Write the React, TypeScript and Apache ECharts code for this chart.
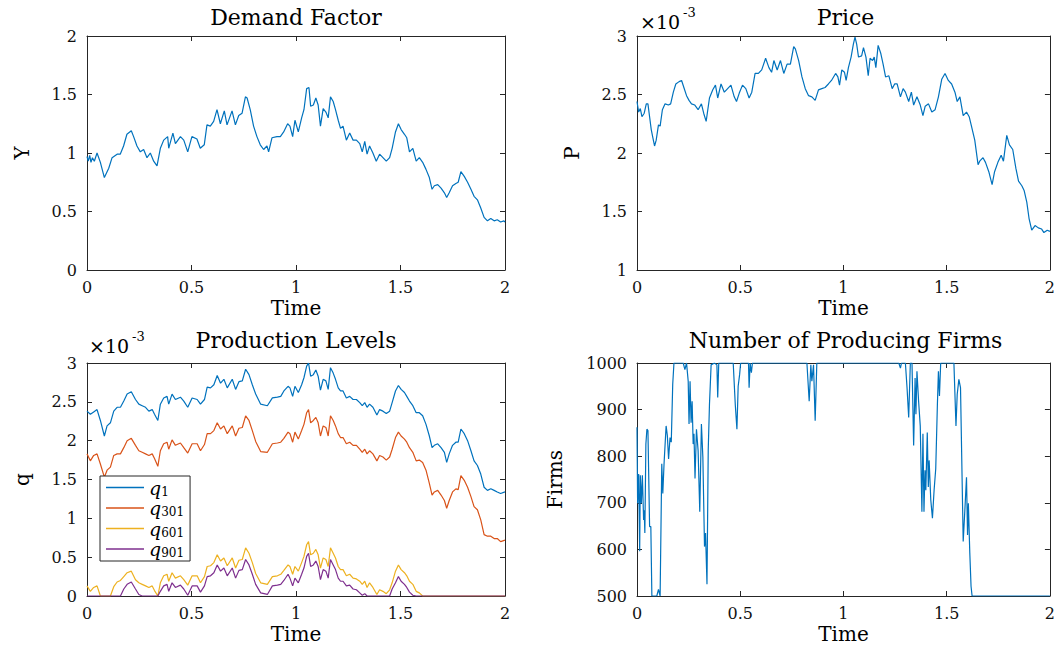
import React, { useEffect, useRef } from "react";
import * as echarts from "echarts";

// ---------- data ----------
// Demand factor Y(t): [time, Y]
const demand: number[][] = [
  [0, 0.97], [0.006, 0.93], [0.013, 0.98], [0.019, 0.92], [0.026, 0.96], [0.035, 0.93], [0.048, 1.0], [0.064, 0.92],
  [0.083, 0.79], [0.104, 0.87], [0.12, 0.96], [0.144, 0.99], [0.159, 0.99], [0.175, 1.06], [0.191, 1.16], [0.212, 1.19],
  [0.223, 1.14], [0.239, 1.06], [0.255, 1.01], [0.271, 1.03], [0.287, 0.96], [0.303, 1.0], [0.319, 0.93], [0.335, 0.89],
  [0.351, 1.04], [0.367, 1.11], [0.386, 1.14], [0.391, 1.04], [0.411, 1.17], [0.423, 1.08], [0.447, 1.14], [0.463, 1.11],
  [0.482, 1.01], [0.502, 1.14], [0.526, 1.12], [0.542, 1.04], [0.561, 1.07], [0.574, 1.24], [0.59, 1.23], [0.606, 1.27],
  [0.622, 1.37], [0.638, 1.25], [0.657, 1.36], [0.67, 1.24], [0.694, 1.36], [0.71, 1.24], [0.726, 1.32], [0.742, 1.34],
  [0.758, 1.48], [0.766, 1.47], [0.781, 1.37], [0.797, 1.23], [0.813, 1.14], [0.829, 1.07], [0.845, 1.03], [0.861, 1.06],
  [0.869, 1.01], [0.885, 1.13], [0.909, 1.14], [0.925, 1.14], [0.941, 1.18], [0.96, 1.25],
  [0.971, 1.23], [0.984, 1.14], [0.995, 1.28], [1.011, 1.18], [1.027, 1.3], [1.038, 1.37], [1.051, 1.55], [1.062, 1.56],
  [1.07, 1.4], [1.083, 1.41], [1.095, 1.47], [1.106, 1.41], [1.117, 1.23], [1.13, 1.38], [1.143, 1.35], [1.154, 1.3],
  [1.165, 1.48], [1.178, 1.44], [1.189, 1.37], [1.202, 1.28], [1.213, 1.21], [1.225, 1.23], [1.241, 1.11], [1.257, 1.17],
  [1.273, 1.11], [1.289, 1.11], [1.305, 1.08], [1.317, 1.01], [1.329, 1.1], [1.34, 0.99], [1.352, 1.06], [1.368, 1.0],
  [1.384, 0.93], [1.4, 0.99], [1.416, 0.96], [1.432, 0.93], [1.448, 0.96], [1.46, 1.04], [1.476, 1.18], [1.49, 1.25],
  [1.503, 1.2], [1.519, 1.16], [1.53, 1.13], [1.543, 1.01], [1.559, 1.04], [1.575, 0.93], [1.59, 0.96], [1.606, 0.92],
  [1.622, 0.86], [1.638, 0.79], [1.651, 0.69], [1.662, 0.72], [1.678, 0.73], [1.694, 0.7], [1.71, 0.66], [1.721, 0.62],
  [1.733, 0.66], [1.749, 0.72], [1.765, 0.74], [1.776, 0.75], [1.789, 0.84], [1.805, 0.8], [1.821, 0.75], [1.837, 0.69],
  [1.852, 0.63], [1.868, 0.6], [1.884, 0.53], [1.9, 0.45], [1.916, 0.42], [1.932, 0.44], [1.948, 0.42], [1.963, 0.43],
  [1.979, 0.41], [1.995, 0.42], [2.0, 0.41],
];

// Price P(t) in units of 1e-3: [time, P]
const price: number[][] = [
  [0, 2.44], [0.008, 2.35], [0.016, 2.38], [0.024, 2.31], [0.035, 2.34], [0.045, 2.42], [0.053, 2.42], [0.061, 2.31],
  [0.069, 2.2], [0.077, 2.13], [0.085, 2.06], [0.093, 2.11], [0.104, 2.24], [0.112, 2.23], [0.123, 2.37], [0.136, 2.42],
  [0.152, 2.41], [0.163, 2.42], [0.176, 2.52], [0.188, 2.59], [0.204, 2.61], [0.216, 2.62], [0.227, 2.56], [0.24, 2.49],
  [0.252, 2.45], [0.264, 2.42], [0.28, 2.41], [0.296, 2.37], [0.312, 2.42], [0.323, 2.34], [0.335, 2.27], [0.351, 2.47],
  [0.367, 2.54], [0.38, 2.58], [0.391, 2.47], [0.407, 2.59], [0.423, 2.52], [0.439, 2.55], [0.455, 2.58], [0.471, 2.48],
  [0.482, 2.44], [0.495, 2.51], [0.511, 2.58], [0.527, 2.55], [0.543, 2.47], [0.556, 2.52], [0.572, 2.68], [0.588, 2.68],
  [0.604, 2.71], [0.623, 2.81], [0.639, 2.73], [0.652, 2.69], [0.663, 2.79], [0.679, 2.71], [0.695, 2.79], [0.711, 2.68],
  [0.727, 2.76], [0.743, 2.76], [0.759, 2.91], [0.767, 2.89], [0.783, 2.79], [0.799, 2.65], [0.815, 2.55], [0.831, 2.49],
  [0.847, 2.48], [0.863, 2.45], [0.879, 2.54], [0.895, 2.55], [0.911, 2.56], [0.927, 2.59], [0.942, 2.62], [0.962, 2.68],
  [0.973, 2.65], [0.981, 2.58], [0.992, 2.71], [1.005, 2.69], [1.013, 2.62], [1.024, 2.73], [1.037, 2.82], [1.048, 2.93],
  [1.056, 2.99], [1.064, 2.93], [1.073, 2.82], [1.088, 2.83], [1.097, 2.9], [1.109, 2.82], [1.12, 2.66], [1.129, 2.81],
  [1.141, 2.79], [1.149, 2.82], [1.157, 2.73], [1.168, 2.92], [1.181, 2.85], [1.192, 2.76], [1.204, 2.65], [1.22, 2.66],
  [1.236, 2.55], [1.248, 2.59], [1.26, 2.59], [1.276, 2.48], [1.289, 2.55], [1.3, 2.52], [1.316, 2.44], [1.329, 2.52],
  [1.34, 2.41], [1.356, 2.48], [1.372, 2.41], [1.385, 2.32], [1.396, 2.4], [1.412, 2.42], [1.428, 2.35], [1.444, 2.37],
  [1.46, 2.48], [1.476, 2.63], [1.492, 2.68], [1.508, 2.62], [1.524, 2.59], [1.54, 2.52], [1.551, 2.44], [1.564, 2.48],
  [1.58, 2.32], [1.596, 2.35], [1.609, 2.31], [1.62, 2.23], [1.636, 2.11], [1.652, 1.9], [1.66, 1.93], [1.676, 1.96],
  [1.688, 1.92], [1.704, 1.84], [1.72, 1.73], [1.732, 1.84], [1.748, 1.92], [1.764, 1.98], [1.775, 1.93], [1.791, 2.15],
  [1.804, 2.07], [1.82, 2.03], [1.835, 1.87], [1.848, 1.76], [1.864, 1.72], [1.875, 1.68], [1.888, 1.58], [1.899, 1.44],
  [1.912, 1.34], [1.928, 1.38], [1.944, 1.36], [1.96, 1.35], [1.971, 1.32], [1.987, 1.34], [2.0, 1.33],
];

// Production levels (units of 1e-3), sampled at a shared time grid
const prodTime: number[] = [
  0, 0.016, 0.032, 0.048, 0.064, 0.083, 0.096, 0.112, 0.128, 0.144, 0.16, 0.176, 0.192, 0.212, 0.232, 0.248, 0.264, 0.28,
  0.296, 0.312, 0.323, 0.339, 0.351, 0.367, 0.383, 0.391, 0.407, 0.423, 0.447, 0.463, 0.482, 0.503, 0.527, 0.543, 0.562,
  0.575, 0.591, 0.607, 0.623, 0.639, 0.655, 0.671, 0.695, 0.711, 0.727, 0.743, 0.759, 0.775, 0.791, 0.807, 0.831, 0.863,
  0.887, 0.911, 0.927, 0.942, 0.962,
  0.971, 0.984, 0.995, 1.011, 1.027, 1.038, 1.051, 1.06, 1.07, 1.083, 1.095, 1.106, 1.117, 1.13, 1.143, 1.154, 1.165,
  1.178, 1.189, 1.202, 1.213, 1.225, 1.241, 1.257, 1.273, 1.289, 1.305, 1.317, 1.329, 1.34, 1.352, 1.368, 1.387, 1.4,
  1.416, 1.432, 1.448, 1.46, 1.476, 1.49, 1.503, 1.519, 1.53, 1.543, 1.559, 1.575, 1.59, 1.606, 1.622, 1.638, 1.651,
  1.662, 1.678, 1.694, 1.71, 1.721, 1.733, 1.749, 1.765, 1.776, 1.789, 1.805, 1.821, 1.837, 1.852, 1.868, 1.884, 1.9,
  1.916, 1.932, 1.948, 1.963, 1.979, 2.0,
];
const q1: number[] = [
  2.38, 2.34, 2.37, 2.4, 2.26, 2.06, 2.19, 2.23, 2.38, 2.43, 2.43, 2.51, 2.6, 2.63, 2.53, 2.47, 2.45, 2.43, 2.38, 2.4,
  2.34, 2.26, 2.47, 2.55, 2.57, 2.47, 2.6, 2.53, 2.56, 2.51, 2.43, 2.55, 2.53, 2.47, 2.53, 2.69, 2.68, 2.72, 2.84, 2.74,
  2.79, 2.68, 2.79, 2.66, 2.76, 2.77, 2.92, 2.85, 2.72, 2.6, 2.47, 2.45, 2.55, 2.56, 2.57, 2.64, 2.7,
  2.68, 2.57, 2.7, 2.62, 2.72, 2.81, 2.96, 3.0, 2.83, 2.85, 2.91, 2.83, 2.65, 2.79, 2.77, 2.66, 2.94, 2.87, 2.79, 2.68,
  2.64, 2.64, 2.55, 2.57, 2.53, 2.53, 2.49, 2.45, 2.49, 2.43, 2.47, 2.43, 2.33, 2.4, 2.38, 2.35, 2.38, 2.49, 2.64, 2.71,
  2.66, 2.62, 2.57, 2.51, 2.45, 2.36, 2.36, 2.32, 2.21, 2.06, 1.91, 1.94, 1.96, 1.91, 1.85, 1.72, 1.83, 1.94, 1.98, 1.98,
  2.15, 2.09, 2.0, 1.87, 1.74, 1.68, 1.57, 1.4, 1.36, 1.38, 1.36, 1.34, 1.32, 1.34,
];
const q301: number[] = [
  1.83, 1.74, 1.81, 1.83, 1.7, 1.53, 1.62, 1.66, 1.81, 1.83, 1.83, 1.91, 2.0, 2.03, 1.94, 1.87, 1.85, 1.83, 1.81, 1.83,
  1.77, 1.67, 1.87, 1.96, 1.98, 1.89, 2.01, 1.94, 1.97, 1.91, 1.84, 1.96, 1.96, 1.87, 1.95, 2.09, 2.09, 2.13, 2.23, 2.15,
  2.19, 2.09, 2.19, 2.06, 2.16, 2.17, 2.32, 2.26, 2.13, 1.99, 1.86, 1.85, 1.96, 1.97, 1.98, 2.03, 2.11,
  2.09, 1.98, 2.11, 2.02, 2.13, 2.21, 2.36, 2.4, 2.23, 2.26, 2.3, 2.23, 2.06, 2.19, 2.17, 2.06, 2.32, 2.26, 2.19, 2.09,
  2.04, 2.04, 1.96, 1.98, 1.94, 1.94, 1.89, 1.85, 1.89, 1.83, 1.87, 1.83, 1.74, 1.81, 1.79, 1.75, 1.79, 1.89, 2.04, 2.11,
  2.06, 2.02, 1.98, 1.91, 1.85, 1.74, 1.75, 1.72, 1.62, 1.45, 1.3, 1.34, 1.36, 1.3, 1.23, 1.13, 1.23, 1.34, 1.38, 1.37,
  1.55, 1.49, 1.4, 1.28, 1.15, 1.11, 0.98, 0.79, 0.77, 0.77, 0.74, 0.74, 0.7, 0.72,
];
const q601: number[] = [
  0.13, 0.06, 0.11, 0.13, 0, 0, 0, 0, 0.12, 0.18, 0.2, 0.25, 0.3, 0.32, 0.21, 0.17, 0.15, 0.13, 0.11, 0.13,
  0.07, 0, 0.17, 0.26, 0.28, 0.19, 0.3, 0.23, 0.26, 0.21, 0.14, 0.26, 0.26, 0.17, 0.25, 0.38, 0.39, 0.43, 0.53, 0.45,
  0.49, 0.39, 0.49, 0.36, 0.46, 0.47, 0.62, 0.55, 0.43, 0.29, 0.17, 0.15, 0.25, 0.26, 0.28, 0.33, 0.4,
  0.38, 0.28, 0.38, 0.32, 0.43, 0.51, 0.66, 0.7, 0.53, 0.55, 0.6, 0.53, 0.36, 0.49, 0.47, 0.38, 0.62, 0.55, 0.49, 0.38,
  0.34, 0.34, 0.26, 0.28, 0.23, 0.22, 0.19, 0.15, 0.19, 0.11, 0.17, 0.11, 0.02, 0.08, 0.06, 0.03, 0.08, 0.17, 0.32, 0.4,
  0.34, 0.3, 0.26, 0.19, 0.15, 0.06, 0.04, 0, 0, 0, 0, 0, 0, 0, 0, 0, 0, 0, 0, 0,
  0, 0, 0, 0, 0, 0, 0, 0, 0, 0, 0, 0, 0, 0,
];
const q901: number[] = [
  0, 0, 0, 0, 0, 0, 0, 0, 0, 0, 0, 0.09, 0.15, 0.18, 0.09, 0.02, 0, 0, 0, 0,
  0, 0, 0.06, 0.13, 0.15, 0.06, 0.17, 0.11, 0.14, 0.09, 0.01, 0.13, 0.13, 0.05, 0.13, 0.25, 0.26, 0.3, 0.4, 0.32,
  0.36, 0.26, 0.36, 0.23, 0.33, 0.34, 0.47, 0.4, 0.28, 0.15, 0.04, 0.02, 0.13, 0.14, 0.15, 0.2, 0.28,
  0.23, 0.13, 0.23, 0.17, 0.28, 0.36, 0.51, 0.55, 0.38, 0.4, 0.45, 0.38, 0.21, 0.34, 0.32, 0.23, 0.47, 0.4, 0.34, 0.23,
  0.19, 0.19, 0.13, 0.14, 0.09, 0.08, 0.04, 0.01, 0.03, 0, 0, 0, 0, 0, 0, 0, 0, 0.09, 0.17, 0.25,
  0.19, 0.15, 0.11, 0.05, 0.01, 0, 0, 0, 0, 0, 0, 0, 0, 0, 0, 0, 0, 0, 0, 0,
  0, 0, 0, 0, 0, 0, 0, 0, 0, 0, 0, 0, 0, 0,
];

// Number of producing firms: [time, firms]
const firms: number[][] = [
  [0, 862], [0.003, 699], [0.008, 762], [0.013, 596], [0.016, 759], [0.021, 699], [0.026, 759], [0.032, 663],
  [0.035, 684], [0.038, 635], [0.043, 826], [0.048, 858], [0.053, 855], [0.061, 649], [0.067, 649], [0.072, 500],
  [0.096, 500], [0.104, 514], [0.112, 500], [0.12, 784], [0.125, 720], [0.131, 784], [0.141, 865], [0.147, 844],
  [0.153, 794], [0.16, 840], [0.166, 830], [0.173, 954], [0.179, 1000], [0.224, 1000], [0.232, 986], [0.24, 1000],
  [0.248, 961], [0.252, 869], [0.257, 961], [0.262, 872], [0.267, 918], [0.272, 826], [0.276, 848], [0.281, 752],
  [0.288, 858], [0.296, 812], [0.304, 681], [0.312, 869], [0.319, 798], [0.327, 606], [0.332, 635], [0.339, 525],
  [0.345, 812], [0.351, 911], [0.359, 996], [0.375, 1000], [0.387, 996], [0.391, 926], [0.396, 1000], [0.466, 1000],
  [0.476, 911], [0.484, 858], [0.49, 950], [0.497, 975], [0.502, 1000], [0.54, 1000], [0.543, 947], [0.548, 1000],
  [0.554, 979], [0.559, 1000], [0.823, 1000], [0.834, 918], [0.842, 996], [0.847, 961], [0.855, 996], [0.863, 876],
  [0.871, 1000], [1.268, 1000], [1.276, 989], [1.281, 1000], [1.3, 1000], [1.308, 947], [1.316, 883], [1.324, 1000],
  [1.332, 1000], [1.34, 823], [1.347, 968], [1.351, 890], [1.356, 982], [1.364, 918], [1.372, 865], [1.38, 681],
  [1.385, 848], [1.39, 681], [1.395, 770], [1.399, 727], [1.406, 851], [1.411, 734], [1.415, 791], [1.423, 706],
  [1.431, 667], [1.439, 727], [1.447, 773], [1.455, 911], [1.46, 982], [1.465, 929], [1.471, 1000], [1.535, 1000],
  [1.545, 865], [1.551, 933], [1.559, 965], [1.567, 947], [1.58, 617], [1.588, 684], [1.596, 755], [1.601, 631],
  [1.605, 699], [1.612, 592], [1.618, 521], [1.623, 500], [2.0, 500],
];

const titles = ["Demand Factor", "Price", "Production Levels", "Number of Producing Firms"];
const yNames = ["Y", "P", "q", "Firms"];
const legendNames = ["q1", "q301", "q601", "q901"];

// ---------- styling ----------
const FONT = "'DejaVu Serif', serif";
const AX = "#262626";
const COLORS = ["#0072BD", "#D95319", "#EDB120", "#7E2F8E"];

const grids = [
  { left: 87, top: 36, width: 418, height: 234 },
  { left: 637, top: 36, width: 417, height: 234 },
  { left: 87, top: 363, width: 418, height: 235 },
  { left: 637, top: 363, width: 417, height: 235 },
];
const yRanges = [
  { min: 0, max: 2, interval: 0.5 },
  { min: 1, max: 3, interval: 0.5 },
  { min: 0, max: 3, interval: 0.5 },
  { min: 500, max: 1000, interval: 100 },
];
const yNameGaps = [55, 55, 55, 72];

const zip = (t: number[], v: number[]) => t.map((x, i) => [x, v[i]]);

function buildOption() {
  const line = { show: true, onZero: false, lineStyle: { color: AX, width: 1 } };
  const tick = { show: true, inside: true, length: 5, lineStyle: { color: AX, width: 1 } };
  const label = { fontFamily: FONT, fontSize: 16, color: "#111" };
  const xAxis: any[] = [];
  const yAxis: any[] = [];
  grids.forEach((_, i) => {
    xAxis.push({
      type: "value", gridIndex: i, min: 0, max: 2, interval: 0.5, position: "bottom",
      name: "Time", nameLocation: "middle", nameGap: 28,
      nameTextStyle: { fontFamily: FONT, fontSize: 20, color: "#000" },
      axisLine: line, axisTick: tick, axisLabel: { ...label, margin: 9 }, splitLine: { show: false },
    });
    xAxis.push({
      type: "value", gridIndex: i, min: 0, max: 2, interval: 0.5, position: "top",
      axisLine: line, axisTick: tick, axisLabel: { show: false }, splitLine: { show: false },
    });
    yAxis.push({
      type: "value", gridIndex: i, ...yRanges[i], position: "left",
      name: yNames[i], nameLocation: "middle", nameGap: yNameGaps[i],
      nameTextStyle: { fontFamily: FONT, fontSize: 20, color: "#000" },
      axisLine: line, axisTick: tick,
      axisLabel: { ...label, margin: 10, formatter: (v: number) => String(v) },
      splitLine: { show: false },
    });
    yAxis.push({
      type: "value", gridIndex: i, ...yRanges[i], position: "right",
      axisLine: line, axisTick: tick, axisLabel: { show: false }, splitLine: { show: false },
    });
  });

  const mk = (name: string, data: number[][], gi: number, color: string) => ({
    type: "line", name, data, xAxisIndex: gi * 2, yAxisIndex: gi * 2,
    symbol: "none", color, lineStyle: { color, width: 1.2 }, silent: true,
  });

  const series = [
    mk("Y", demand, 0, COLORS[0]),
    mk("P", price, 1, COLORS[0]),
    mk("q1", zip(prodTime, q1), 2, COLORS[0]),
    mk("q301", zip(prodTime, q301), 2, COLORS[1]),
    mk("q601", zip(prodTime, q601), 2, COLORS[2]),
    mk("q901", zip(prodTime, q901), 2, COLORS[3]),
    mk("Firms", firms, 3, COLORS[0]),
  ];

  const title = titles.map((t, i) => ({
    text: t,
    left: grids[i].left + grids[i].width / 2,
    top: i < 2 ? 6 : 329,
    textAlign: "center",
    padding: 0,
    textStyle: { fontFamily: FONT, fontSize: 22, fontWeight: "normal", color: "#000" },
  }));

  const expo = (x: number, y: number) => [
    { type: "text", left: x, top: y, style: { text: "×10", font: `19px ${FONT}`, fill: "#000" } },
    { type: "text", left: x + 43, top: y - 6, style: { text: "-3", font: `13px ${FONT}`, fill: "#000" } },
  ];

  return {
    animation: false,
    backgroundColor: "#fff",
    grid: grids.map((g) => ({ ...g, containLabel: false })),
    xAxis,
    yAxis,
    title,
    series,
    legend: {
      data: legendNames,
      orient: "vertical",
      left: 100,
      top: 476,
      padding: [2, 6, 2, 6],
      itemGap: 1,
      icon: "rect",
      itemWidth: 38,
      itemHeight: 1.5,
      backgroundColor: "#fff",
      borderColor: AX,
      borderWidth: 1,
      borderRadius: 0,
      selectedMode: false,
      formatter: (n: string) => `{q|q}{s|${n.slice(1)}}`,
      textStyle: {
        rich: {
          q: { fontFamily: FONT, fontStyle: "italic", fontSize: 19, lineHeight: 20, color: "#000" },
          s: { fontFamily: FONT, fontSize: 12, lineHeight: 12, verticalAlign: "bottom", color: "#000" },
        },
      },
    },
    graphic: [...expo(640, 12), ...expo(89, 336)],
  };
}

export default function App() {
  const ref = useRef<HTMLDivElement>(null);
  useEffect(() => {
    if (!ref.current) return;
    const chart = echarts.init(ref.current, undefined, { renderer: "svg" });
    chart.setOption(buildOption() as any);
    return () => chart.dispose();
  }, []);
  return (
    <div
      ref={ref}
      style={{ position: "fixed", left: 0, top: 0, width: 1058, height: 645, background: "#fff" }}
    />
  );
}
